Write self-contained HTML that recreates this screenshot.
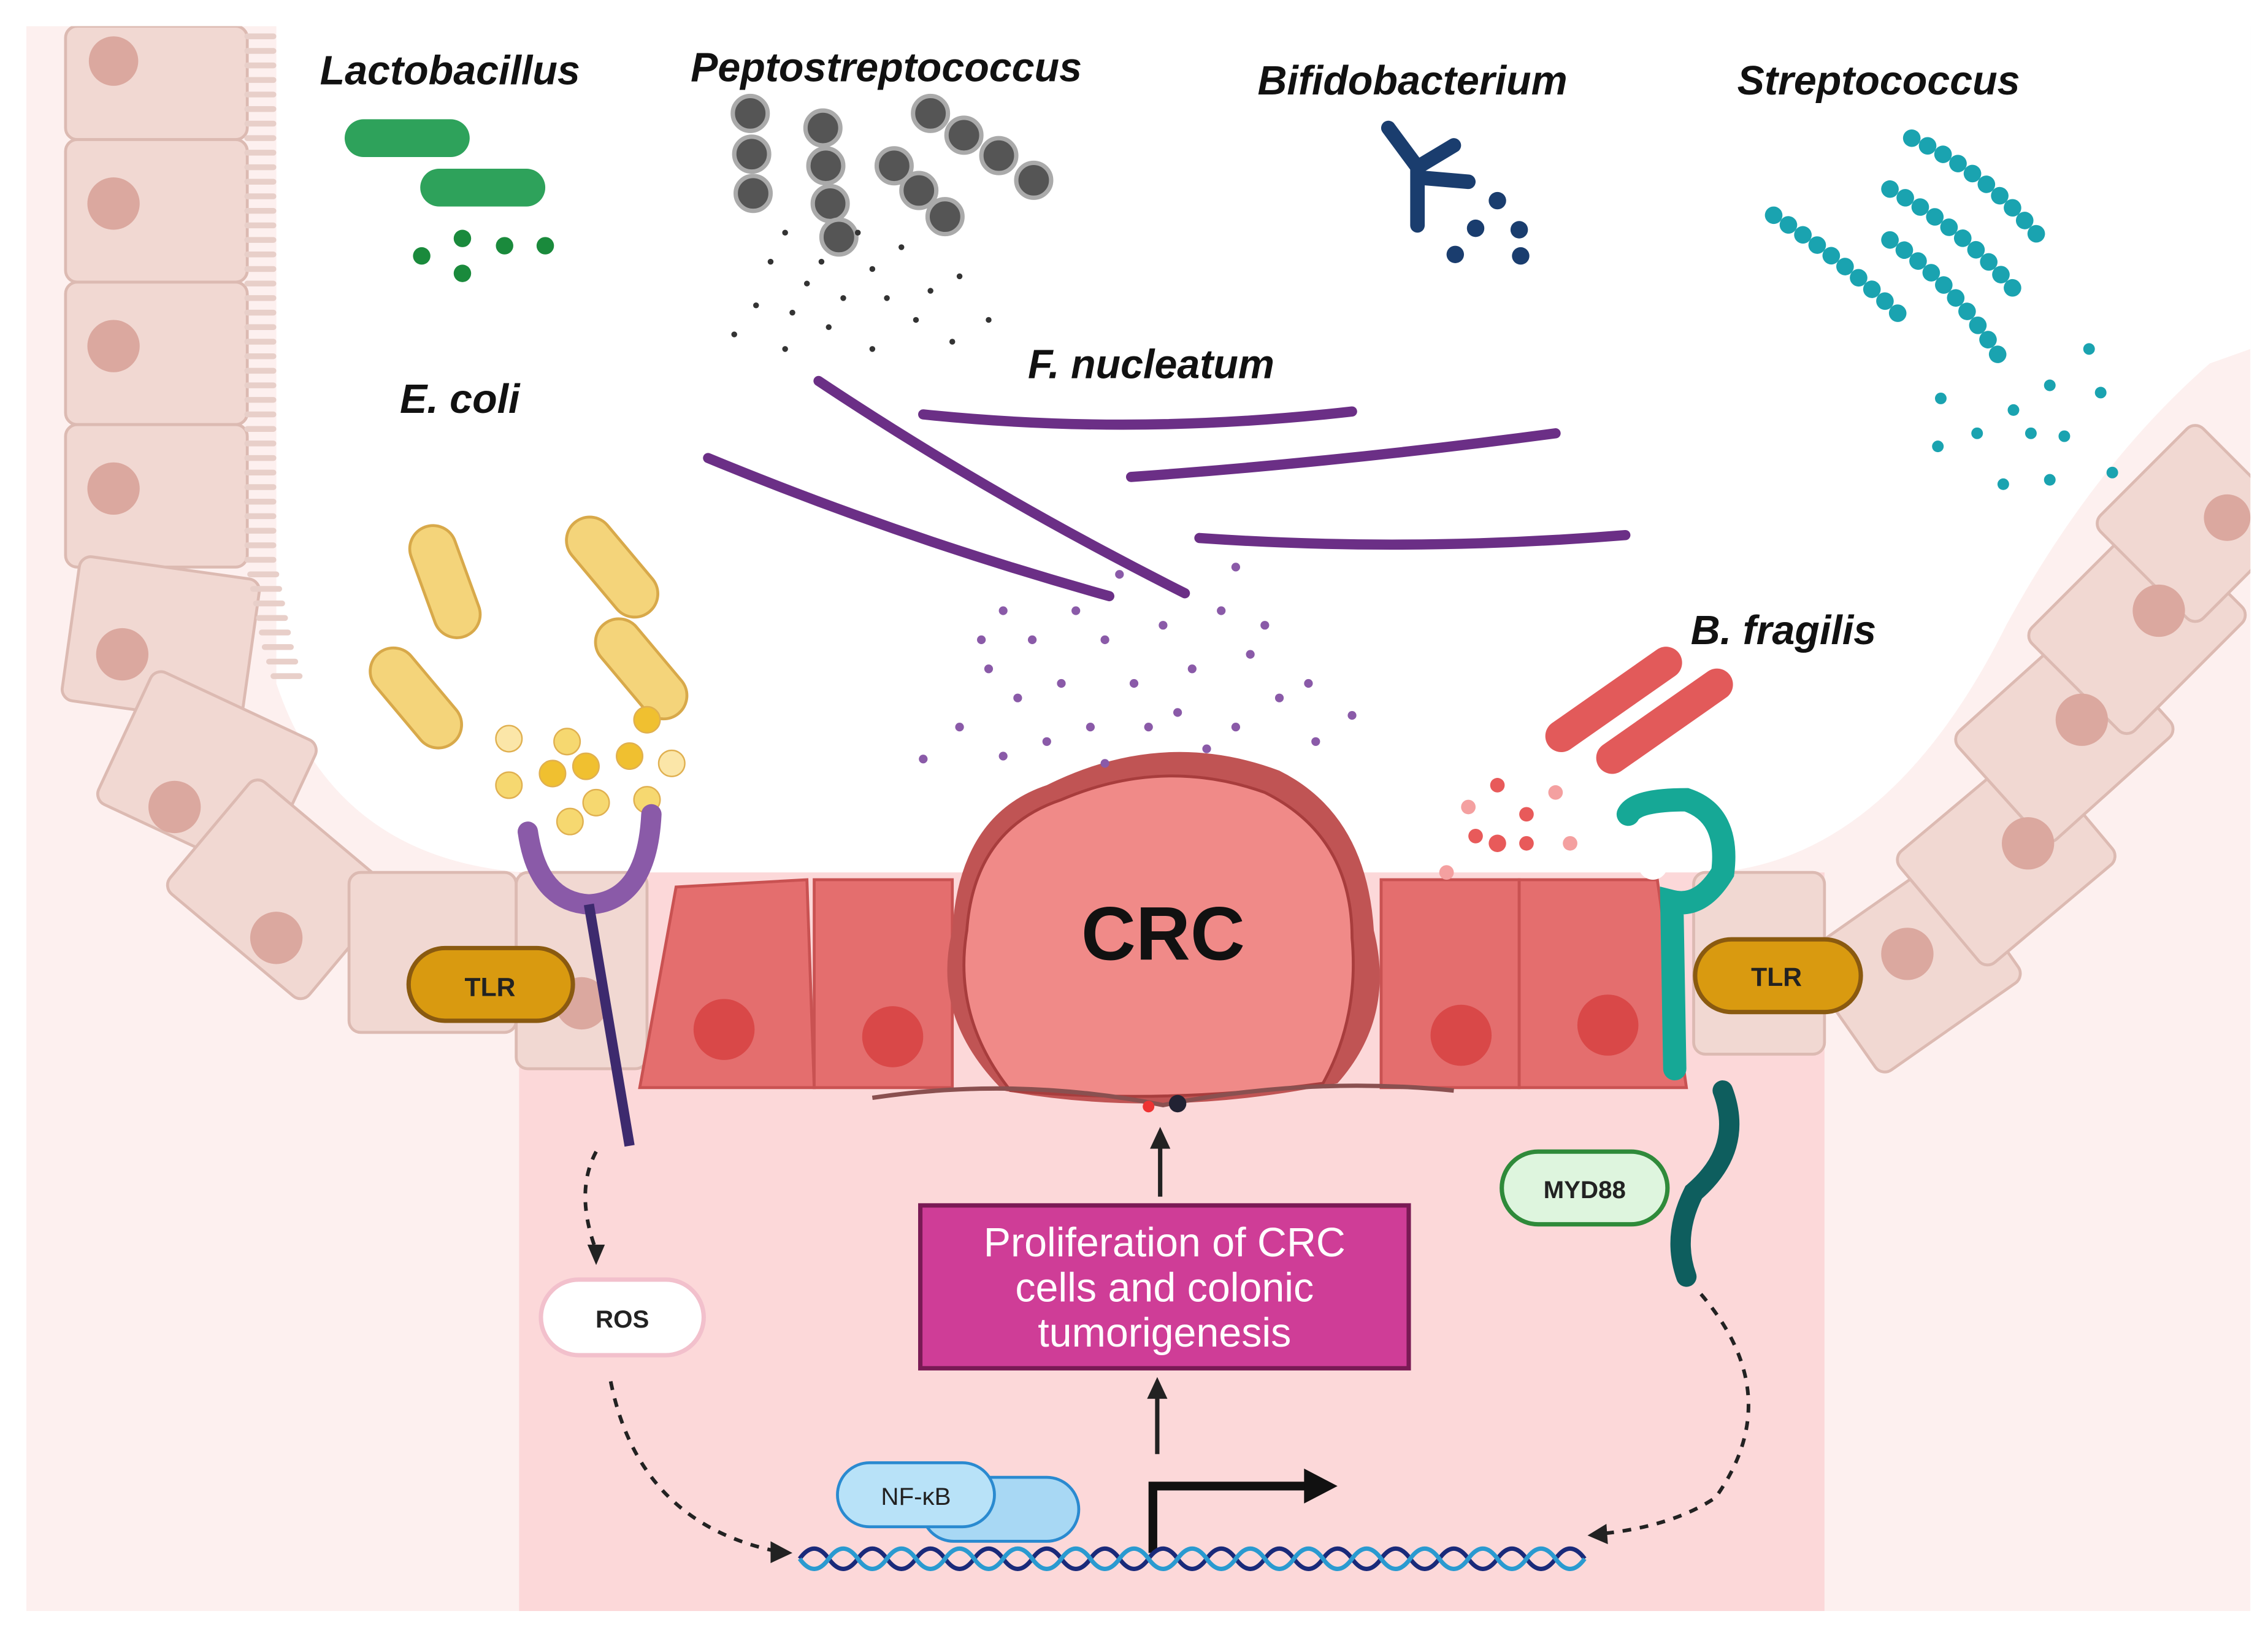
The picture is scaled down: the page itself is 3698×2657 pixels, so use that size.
<!DOCTYPE html>
<html><head><meta charset="utf-8">
<style>
html,body{margin:0;padding:0;background:#fff;}
svg{display:block;}
text{font-family:"Liberation Sans",sans-serif;}
.lab{font-style:italic;font-weight:bold;font-size:28px;fill:#111;}
</style></head><body>
<svg width="3698" height="2657" viewBox="0 0 1560 1121" xmlns="http://www.w3.org/2000/svg">
<defs><clipPath id="c"><rect x="18" y="18" width="1530" height="1090"/></clipPath></defs>
<rect width="1560" height="1121" fill="#fff"/>
<g clip-path="url(#c)">
<rect x="18" y="18" width="1530" height="1090" fill="#fdf0ef"/>
<path d="M190,18 L190,470 Q230,590 360,600 L1180,600 Q1300,590 1380,430 Q1440,320 1520,250 L1548,240 L1548,18 Z" fill="#fff"/>
<rect x="357" y="600" width="898" height="508" fill="#fcd8d9"/>

<g fill="#f1d8d2" stroke="#dcbab2" stroke-width="2">
<rect x="45" y="18" width="125" height="78" rx="8"/>
<rect x="45" y="96" width="125" height="98" rx="8"/>
<rect x="45" y="194" width="125" height="98" rx="8"/>
<rect x="45" y="292" width="125" height="98" rx="8"/>
<rect x="48" y="390" width="125" height="100" rx="8" transform="rotate(8 110 440)"/>
<rect x="80" y="480" width="125" height="100" rx="8" transform="rotate(25 140 530)"/>
<rect x="130" y="560" width="125" height="100" rx="8" transform="rotate(40 190 610)"/>
<rect x="240" y="600" width="115" height="110" rx="8"/>
<rect x="355" y="600" width="90" height="135" rx="8"/>
<rect x="1165" y="600" width="90" height="125" rx="8"/>
<rect x="1255" y="615" width="120" height="100" rx="8" transform="rotate(-35 1315 665)"/>
<rect x="1320" y="540" width="120" height="100" rx="8" transform="rotate(-40 1380 590)"/>
<rect x="1360" y="455" width="120" height="100" rx="8" transform="rotate(-42 1420 505)"/>
<rect x="1410" y="380" width="120" height="100" rx="8" transform="rotate(-45 1470 430)"/>
<rect x="1460" y="310" width="100" height="100" rx="8" transform="rotate(-45 1510 360)"/>
</g>
<g fill="#dba89f">
<circle cx="78" cy="42" r="17"/><circle cx="78" cy="140" r="18"/><circle cx="78" cy="238" r="18"/><circle cx="78" cy="336" r="18"/>
<circle cx="84" cy="450" r="18"/><circle cx="120" cy="555" r="18"/><circle cx="190" cy="645" r="18"/><circle cx="400" cy="690" r="18"/>
<circle cx="1312" cy="656" r="18"/><circle cx="1395" cy="580" r="18"/><circle cx="1432" cy="495" r="18"/><circle cx="1485" cy="420" r="18"/><circle cx="1532" cy="356" r="16"/>
</g>
<g stroke="#e8cfc9" stroke-width="4" stroke-linecap="round">
<path d="M170,25 h18 M170,35 h18 M170,45 h18 M170,55 h18 M170,65 h18 M170,75 h18 M170,85 h18 M170,95 h18 M170,105 h18 M170,115 h18 M170,125 h18 M170,135 h18 M170,145 h18 M170,155 h18 M170,165 h18 M170,175 h18 M170,185 h18 M170,195 h18 M170,205 h18 M170,215 h18 M170,225 h18 M170,235 h18 M170,245 h18 M170,255 h18 M170,265 h18 M170,275 h18 M170,285 h18 M170,295 h18 M170,305 h18 M170,315 h18 M170,325 h18 M170,335 h18 M170,345 h18 M170,355 h18 M170,365 h18 M170,375 h18 M170,385 h18 M172,395 h18 M174,405 h18 M176,415 h18 M178,425 h18 M180,435 h18 M182,445 h18 M185,455 h18 M188,465 h18"/>
</g>
<g fill="#e46e6e" stroke="#c95252" stroke-width="2">
<path d="M465,610 L555,605 L560,748 L440,748 Z"/>
<rect x="560" y="605" width="95" height="143"/>
<rect x="950" y="605" width="95" height="143"/>
<path d="M1045,605 L1140,605 L1160,748 L1045,748 Z"/>
</g>
<g fill="#d94848"><circle cx="498" cy="708" r="21"/><circle cx="614" cy="713" r="21"/><circle cx="1005" cy="712" r="21"/><circle cx="1106" cy="705" r="21"/></g>
<path d="M655,640 Q660,560 720,540 Q800,500 880,530 Q940,560 945,640 Q960,700 920,745 Q800,770 690,750 Q640,700 655,640Z" fill="#c05454"/>
<path d="M665,640 Q670,570 730,550 Q800,520 870,545 Q930,575 930,645 Q935,700 910,745 Q800,760 695,750 Q655,700 665,640Z" fill="#f08a88" stroke="#a83d3d" stroke-width="2"/>
<path d="M600,755 Q700,740 800,760 Q900,740 1000,750" stroke="#8a5050" stroke-width="3" fill="none"/>
<text x="800" y="660" text-anchor="middle" font-size="52" font-weight="bold" fill="#111">CRC</text>
<circle cx="790" cy="761" r="4" fill="#e33"/><circle cx="810" cy="759" r="6" fill="#223"/>
<text class="lab" x="220" y="58">Lactobacillus</text>
<text class="lab" x="475" y="56">Peptostreptococcus</text>
<text class="lab" x="865" y="65">Bifidobacterium</text>
<text class="lab" x="1195" y="65">Streptococcus</text>
<text class="lab" x="275" y="284">E. coli</text>
<text class="lab" x="707" y="260">F. nucleatum</text>
<text class="lab" x="1163" y="443">B. fragilis</text>
<rect x="237" y="82" width="86" height="26" rx="13" fill="#2ea25b"/>
<rect x="289" y="116" width="86" height="26" rx="13" fill="#2ea25b"/>
<g fill="#1a8a3c"><circle cx="290" cy="176" r="6"/><circle cx="318" cy="164" r="6"/><circle cx="318" cy="188" r="6"/><circle cx="347" cy="169" r="6"/><circle cx="375" cy="169" r="6"/></g>
<g fill="#555" stroke="#aaa" stroke-width="3">
<circle cx="516" cy="78" r="12"/><circle cx="517" cy="106" r="12"/><circle cx="518" cy="133" r="12"/>
<circle cx="566" cy="88" r="12"/><circle cx="568" cy="114" r="12"/><circle cx="571" cy="140" r="12"/><circle cx="577" cy="163" r="12"/>
<circle cx="640" cy="78" r="12"/><circle cx="663" cy="93" r="12"/><circle cx="687" cy="107" r="12"/><circle cx="711" cy="124" r="12"/>
<circle cx="615" cy="114" r="12"/><circle cx="632" cy="131" r="12"/><circle cx="650" cy="149" r="12"/>
</g>
<g fill="#333">
<circle cx="540" cy="160" r="2"/><circle cx="530" cy="180" r="2"/><circle cx="555" cy="195" r="2"/><circle cx="520" cy="210" r="2"/><circle cx="580" cy="205" r="2"/><circle cx="600" cy="185" r="2"/><circle cx="620" cy="170" r="2"/><circle cx="640" cy="200" r="2"/><circle cx="660" cy="190" r="2"/><circle cx="505" cy="230" r="2"/><circle cx="540" cy="240" r="2"/><circle cx="570" cy="225" r="2"/><circle cx="600" cy="240" r="2"/><circle cx="630" cy="220" r="2"/><circle cx="655" cy="235" r="2"/><circle cx="680" cy="220" r="2"/><circle cx="545" cy="215" r="2"/><circle cx="610" cy="205" r="2"/><circle cx="590" cy="160" r="2"/><circle cx="565" cy="180" r="2"/>
</g>
<path d="M955,88 L975,115 L975,155 M975,115 L1000,100 M975,122 L1010,125" stroke="#1a3d6e" stroke-width="10" stroke-linecap="round" fill="none"/>
<g fill="#1a3d6e"><circle cx="1030" cy="138" r="6"/><circle cx="1015" cy="157" r="6"/><circle cx="1045" cy="158" r="6"/><circle cx="1001" cy="175" r="6"/><circle cx="1046" cy="176" r="6"/></g>
<g stroke="#1aa3b0" stroke-width="12" stroke-linecap="round" stroke-dasharray="0.1 12" fill="none">
<path d="M1315,95 Q1370,120 1408,170"/>
<path d="M1300,130 Q1355,160 1390,205"/>
<path d="M1300,165 Q1345,195 1378,250"/>
<path d="M1220,148 Q1270,180 1310,220"/>
</g>
<g fill="#1aa3b0"><circle cx="1335" cy="274" r="4"/><circle cx="1360" cy="298" r="4"/><circle cx="1385" cy="282" r="4"/><circle cx="1410" cy="265" r="4"/><circle cx="1437" cy="240" r="4"/><circle cx="1445" cy="270" r="4"/><circle cx="1397" cy="298" r="4"/><circle cx="1420" cy="300" r="4"/><circle cx="1333" cy="307" r="4"/><circle cx="1378" cy="333" r="4"/><circle cx="1410" cy="330" r="4"/><circle cx="1453" cy="325" r="4"/></g>
<g stroke="#6b2f86" stroke-width="7" stroke-linecap="round" fill="none">
<path d="M635,285 Q780,300 930,283"/>
<path d="M778,328 Q920,318 1070,298"/>
<path d="M825,370 Q970,380 1118,368"/>
<path d="M563,262 Q680,340 815,408"/>
<path d="M487,315 Q620,370 763,410"/>
</g>
<g fill="#8a5aa8">
<circle cx="690" cy="420" r="3"/><circle cx="710" cy="440" r="3"/><circle cx="680" cy="460" r="3"/><circle cx="700" cy="480" r="3"/><circle cx="660" cy="500" r="3"/><circle cx="635" cy="522" r="3"/><circle cx="730" cy="470" r="3"/><circle cx="760" cy="440" r="3"/><circle cx="780" cy="470" r="3"/><circle cx="750" cy="500" r="3"/><circle cx="720" cy="510" r="3"/><circle cx="800" cy="430" r="3"/><circle cx="820" cy="460" r="3"/><circle cx="840" cy="420" r="3"/><circle cx="860" cy="450" r="3"/><circle cx="880" cy="480" r="3"/><circle cx="850" cy="500" r="3"/><circle cx="830" cy="515" r="3"/><circle cx="900" cy="470" r="3"/><circle cx="930" cy="492" r="3"/><circle cx="905" cy="510" r="3"/><circle cx="770" cy="395" r="3"/><circle cx="850" cy="390" r="3"/><circle cx="790" cy="500" r="3"/><circle cx="810" cy="490" r="3"/><circle cx="740" cy="420" r="3"/><circle cx="870" cy="430" r="3"/><circle cx="690" cy="520" r="3"/><circle cx="760" cy="525" r="3"/><circle cx="675" cy="440" r="3"/>
</g>
<g fill="#f4d47a" stroke="#d8a94a" stroke-width="2">
<rect x="290" y="360" width="32" height="80" rx="16" transform="rotate(-20 306 400)"/>
<rect x="405" y="350" width="32" height="80" rx="16" transform="rotate(-40 421 390)"/>
<rect x="270" y="440" width="32" height="80" rx="16" transform="rotate(-40 286 480)"/>
<rect x="425" y="420" width="32" height="80" rx="16" transform="rotate(-40 441 460)"/>
</g>
<g fill="#f0c030" stroke="#e0b050">
<circle cx="380" cy="532" r="9"/><circle cx="403" cy="527" r="9"/><circle cx="433" cy="520" r="9"/><circle cx="445" cy="495" r="9"/><circle cx="350" cy="540" r="9" fill="#f6d870"/><circle cx="390" cy="510" r="9" fill="#f6d870"/><circle cx="410" cy="552" r="9" fill="#f6d870"/><circle cx="445" cy="550" r="9" fill="#f6d870"/><circle cx="462" cy="525" r="9" fill="#fbe6a8"/><circle cx="350" cy="508" r="9" fill="#fbe6a8"/><circle cx="392" cy="565" r="9" fill="#f6d870"/>
</g>
<path d="M363,572 Q370,620 405,622 Q445,620 448,560" stroke="#8a5aa8" stroke-width="14" fill="none" stroke-linecap="round"/>
<path d="M405,622 L433,788" stroke="#3d2a6e" stroke-width="7"/>
<rect x="281" y="652" width="113" height="50" rx="25" fill="#d99a10" stroke="#8a5a10" stroke-width="3"/>
<text x="337" y="685" text-anchor="middle" font-size="18" font-weight="bold" fill="#222">TLR</text>
<g fill="#e25a5a"><rect x="1055" y="470" width="110" height="22" rx="11" transform="rotate(-35 1110 481)"/><rect x="1090" y="485" width="110" height="22" rx="11" transform="rotate(-35 1145 496)"/></g>
<g fill="#e85a5a"><circle cx="1030" cy="540" r="5"/><circle cx="1050" cy="560" r="5"/><circle cx="1030" cy="580" r="6"/><circle cx="1050" cy="580" r="5"/><circle cx="1010" cy="555" r="5" fill="#f4a0a0"/><circle cx="995" cy="600" r="5" fill="#f4a0a0"/><circle cx="1070" cy="545" r="5" fill="#f4a0a0"/><circle cx="1080" cy="580" r="5" fill="#f4a0a0"/><circle cx="1015" cy="575" r="5"/></g>
<path d="M1120,560 Q1125,550 1160,550 Q1190,560 1185,600 Q1170,625 1150,620 L1152,735" stroke="#16a896" stroke-width="16" fill="none" stroke-linecap="round"/>
<circle cx="1137" cy="595" r="10" fill="#fff"/>
<path d="M1185,750 Q1200,790 1165,820 Q1150,850 1160,878" stroke="#0e5e5e" stroke-width="14" fill="none" stroke-linecap="round"/>
<rect x="1166" y="646" width="114" height="50" rx="25" fill="#d99a10" stroke="#8a5a10" stroke-width="3"/>
<text x="1222" y="678" text-anchor="middle" font-size="18" font-weight="bold" fill="#222">TLR</text>
<rect x="1033" y="792" width="114" height="50" rx="25" fill="#def5de" stroke="#2f8a3a" stroke-width="3"/>
<text x="1090" y="824" text-anchor="middle" font-size="17" font-weight="bold" fill="#222">MYD88</text>
<rect x="372" y="880" width="112" height="52" rx="26" fill="#fff" stroke="#f2c0cc" stroke-width="3"/>
<text x="428" y="913" text-anchor="middle" font-size="17" font-weight="bold" fill="#222">ROS</text>
<g stroke="#222" stroke-width="2.5" stroke-dasharray="6 6" fill="none">
<path d="M410,792 Q395,820 410,860"/>
<path d="M420,950 Q440,1050 540,1068"/>
<path d="M1170,890 Q1230,960 1180,1030 Q1150,1050 1100,1055"/>
</g>
<path d="M404,856 L416,856 L410,870Z" fill="#222"/>
<path d="M530,1060 L545,1068 L530,1075Z" fill="#222"/>
<path d="M1105,1048 L1092,1056 L1106,1062Z" fill="#222"/>
<rect x="633" y="829" width="336" height="112" fill="#cf3d97" stroke="#7a1a55" stroke-width="3"/>
<text x="801" y="864" text-anchor="middle" font-size="28" fill="#fff">Proliferation of CRC</text>
<text x="801" y="895" text-anchor="middle" font-size="28" fill="#fff">cells and colonic</text>
<text x="801" y="926" text-anchor="middle" font-size="28" fill="#fff">tumorigenesis</text>
<g stroke="#222" stroke-width="3"><line x1="798" y1="823" x2="798" y2="788"/><line x1="796" y1="1000" x2="796" y2="960"/></g>
<path d="M791,790 L805,790 L798,775Z M789,962 L803,962 L796,947Z" fill="#222"/>
<rect x="634" y="1016" width="108" height="44" rx="22" fill="#a8d8f4" stroke="#2a8ad0" stroke-width="2"/>
<rect x="576" y="1006" width="108" height="44" rx="22" fill="#b8e2f8" stroke="#2a8ad0" stroke-width="2"/>
<text x="630" y="1035" text-anchor="middle" font-size="17" fill="#222">NF-κB</text>
<path d="M793,1068 L793,1022 L900,1022" stroke="#111" stroke-width="6" fill="none"/>
<path d="M897,1010 L920,1022 L897,1034Z" fill="#111"/>
<g fill="none" stroke-width="3">
<path d="M550,1072 q10,-14 20,0 t20,0 t20,0 t20,0 t20,0 t20,0 t20,0 t20,0 t20,0 t20,0 t20,0 t20,0 t20,0 t20,0 t20,0 t20,0 t20,0 t20,0 t20,0 t20,0 t20,0 t20,0 t20,0 t20,0 t20,0 t20,0 t20,0" stroke="#1a2a7a"/>
<path d="M550,1072 q10,14 20,0 t20,0 t20,0 t20,0 t20,0 t20,0 t20,0 t20,0 t20,0 t20,0 t20,0 t20,0 t20,0 t20,0 t20,0 t20,0 t20,0 t20,0 t20,0 t20,0 t20,0 t20,0 t20,0 t20,0 t20,0 t20,0 t20,0" stroke="#2a9ad0"/>
</g>
</g>
</svg>
</body></html>
